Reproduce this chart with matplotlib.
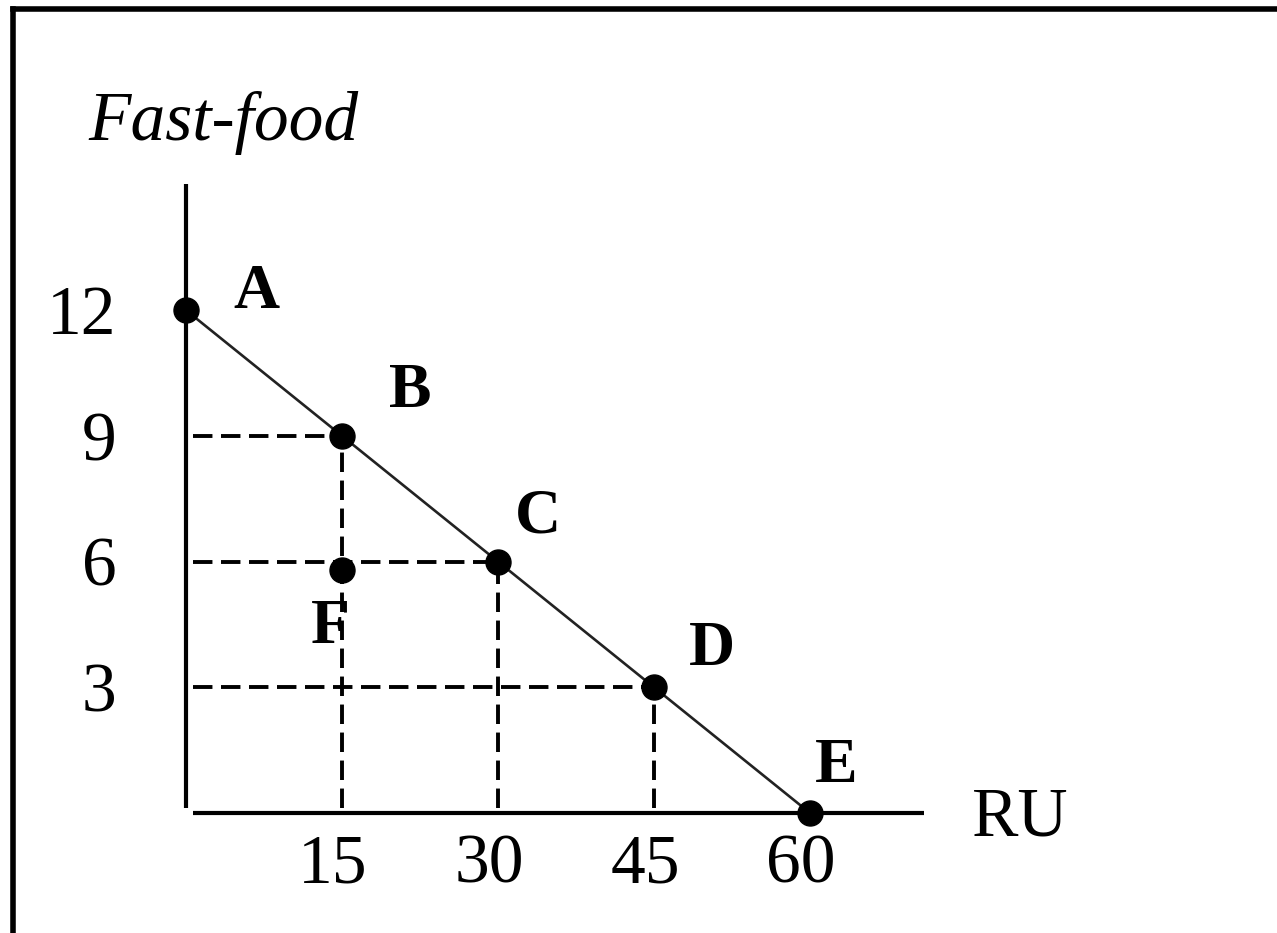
import matplotlib
matplotlib.use("Agg")
import matplotlib.pyplot as plt
from matplotlib.lines import Line2D
from matplotlib.transforms import ScaledTranslation

plt.rcParams['font.family'] = ['Liberation Serif', 'DejaVu Serif']

# production possibilities: RU on x, fast-food on y
points = ['A', 'B', 'C', 'D', 'E']
ru = [0, 15, 30, 45, 60]
fastfood = [12, 9, 6, 3, 0]

# inefficient point inside the frontier
f_ru = 15
f_food = 5.8

x_ticks = [15, 30, 45, 60]
y_ticks = [3, 6, 9, 12]

# label offsets in pixels (dx, dy) from each point, baseline anchored
label_offsets = {'A': (70, 2), 'B': (68, 29), 'C': (40, 29), 'D': (58, 22),
                 'E': (26, 31), 'F': (-12, -73)}

W, H = 1277, 933
fig = plt.figure(figsize=(W / 100, H / 100), dpi=100)
ax = fig.add_axes([186 / W, 120 / H, 738.4 / W, 628.5 / H])
ax.set_xlim(0, 71)
ax.set_ylim(0, 15)
for s in ax.spines.values():
    s.set_visible(False)

# axes drawn by hand so the corner has the small gap
ax.plot([0, 0], [0.12, 15], color='black', lw=3, solid_capstyle='butt', clip_on=False)
ax.plot([0.67, 71], [0, 0], color='black', lw=3, solid_capstyle='butt', clip_on=False)

# dashed guides from B, C, D to both axes
dash = dict(color='black', lw=2.8, dashes=(5, 2.2))
for x, y in zip(ru[1:4], fastfood[1:4]):
    ax.plot([0.67, x], [y, y], **dash)
    ax.plot([x, x], [0.12, y], **dash)

# frontier
ax.plot(ru, fastfood, color='#222222', lw=1.9, zorder=3)
ax.plot(ru, fastfood, 'o', color='black', ms=18, zorder=4, clip_on=False)
ax.plot([f_ru], [f_food], 'o', color='black', ms=18, zorder=4)

for name, x, y in zip(points + ['F'], ru + [f_ru], fastfood + [f_food]):
    dx, dy = label_offsets[name]
    ax.annotate(name, (x, y), xytext=(dx, dy), textcoords='offset pixels',
                ha='center', va='baseline', fontsize=46, fontweight='bold')

ax.set_xticks(x_ticks)
ax.set_xticklabels([str(t) for t in x_ticks])
ax.set_yticks(y_ticks)
ax.set_yticklabels([str(t) for t in y_ticks])
ax.tick_params(axis='both', length=0, labelsize=50)
ax.tick_params(axis='x', pad=15)
ax.tick_params(axis='y', pad=50)

# x tick numbers sit a little left of their guides
shift = ScaledTranslation(-9 / 100, 0, fig.dpi_scale_trans)
for lab in ax.get_xticklabels():
    lab.set_transform(lab.get_transform() + shift)

fig.text(88 / W, 1 - 140 / H, 'Fast-food', fontsize=50, style='italic',
         ha='left', va='baseline')
fig.text(972 / W, 1 - 835 / H, 'RU', fontsize=50, ha='left', va='baseline')

# frame around the figure (left and top edges only)
fig.add_artist(Line2D([13 / W, 13 / W], [0, 1 - 9 / H], color='black', lw=4,
                      solid_capstyle='projecting', transform=fig.transFigure))
fig.add_artist(Line2D([13 / W, 1], [1 - 9 / H, 1 - 9 / H], color='black', lw=4,
                      solid_capstyle='projecting', transform=fig.transFigure))

fig.savefig('out.png', dpi=100)
